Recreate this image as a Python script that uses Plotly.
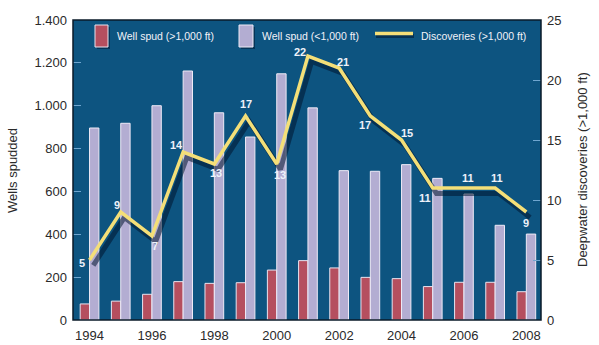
import plotly.graph_objects as go

years = list(range(1994, 2009))
spud_deep = [75, 88, 120, 179, 171, 174, 233, 277, 243, 199, 193, 156, 176, 176, 132]
spud_shallow = [896, 918, 1000, 1162, 967, 854, 1149, 990, 697, 694, 725, 661, 588, 442, 401]
discoveries = [5, 9, 7, 14, 13, 17, 13, 22, 21, 17, 15, 11, 11, 11, 9]
left_ticks = [0, 200, 400, 600, 800, 1000, 1200, 1400]
right_ticks = [0, 5, 10, 15, 20, 25]
x_ticks = [1994, 1996, 1998, 2000, 2002, 2004, 2006, 2008]

# label offsets (pixels) for the discovery value labels
lab_dx = [-8, -4, 3, -7, 2, 0, 3, -8, 4, -5, 5, -8, 4, 2, 0]
lab_dy = [-3, 7, -10, 7, -9, 12, -11, 4, 6, -9, 7, -10, 10, 10, -11]

BG = "#0d5480"
RED = "#b54f5f"
LAV = "#b3add2"
YEL = "#f4df78"
TXT = "#2a2a2a"
FONT = "Liberation Sans, Arial, sans-serif"

fig = go.Figure()
fig.add_trace(go.Bar(x=years, y=spud_deep, name="Well spud (>1,000 ft)",
                     marker=dict(color=RED, line=dict(color="#e8e4f0", width=1)),
                     showlegend=False))
fig.add_trace(go.Bar(x=years, y=spud_shallow, name="Well spud (<1,000 ft)",
                     marker=dict(color=LAV, line=dict(color="#eeeaf6", width=1)),
                     showlegend=False))
# soft shadow under the discoveries line
fig.add_trace(go.Scatter(x=[v + 0.12 for v in years], y=[d - 0.45 for d in discoveries],
                         mode="lines", line=dict(color="rgba(0,20,45,0.55)", width=5),
                         yaxis="y2", showlegend=False, hoverinfo="skip"))
fig.add_trace(go.Scatter(x=years, y=discoveries, name="Discoveries (>1,000 ft)",
                         mode="lines", line=dict(color=YEL, width=3.5),
                         yaxis="y2", showlegend=False))

for yr, d, dx, dy in zip(years, discoveries, lab_dx, lab_dy):
    fig.add_annotation(x=yr, y=d, yref="y2", text="<b>%d</b>" % d, showarrow=False,
                       xshift=dx, yshift=dy,
                       font=dict(family=FONT, size=11, color="#eef2fa"))

# custom legend
def rect(x0, y0, x1, y1, color, line=None, lw=0):
    fig.add_shape(type="rect", xref="paper", yref="paper", x0=x0, y0=y0, x1=x1, y1=y1,
                  fillcolor=color, line=dict(color=line or color, width=lw), layer="above")

W, H = 468.0, 300.0
def px(x):
    return (x - 73) / W
def py(y):
    return (320 - y) / H

rect(px(97), py(49), px(110), py(27), "rgba(0,20,45,0.5)")
rect(px(95), py(47), px(108), py(25), RED, "#e8e4f0", 1)
rect(px(241), py(49), px(255), py(27), "rgba(0,20,45,0.5)")
rect(px(239), py(47), px(253), py(25), LAV, "#eeeaf6", 1)
fig.add_shape(type="line", xref="paper", yref="paper", x0=px(376), x1=px(414), y0=py(36), y1=py(36),
              line=dict(color="rgba(0,20,45,0.55)", width=4), layer="above")
fig.add_shape(type="line", xref="paper", yref="paper", x0=px(375), x1=px(413), y0=py(33.5), y1=py(33.5),
              line=dict(color=YEL, width=3.5), layer="above")
for x, t in [(115, "Well spud (>1,000 ft)"), (260, "Well spud (<1,000 ft)"), (419, "Discoveries (>1,000 ft)")]:
    fig.add_annotation(xref="paper", yref="paper", x=px(x), y=py(36), text=t, showarrow=False,
                       xanchor="left", yanchor="middle",
                       font=dict(family=FONT, size=10.5, color="#f2f2f8"))

# axis titles
fig.add_annotation(xref="paper", yref="paper", x=px(12), y=0.5, text="Wells spudded",
                   textangle=-90, showarrow=False, xanchor="center", yanchor="middle",
                   font=dict(family=FONT, size=13, color=TXT))
fig.add_annotation(xref="paper", yref="paper", x=px(582), y=0.5,
                   text="Deepwater discoveries (>1,000 ft)", xanchor="center", yanchor="middle",
                   textangle=-90, showarrow=False, font=dict(family=FONT, size=13, color=TXT))

# frame
fig.add_shape(type="rect", xref="paper", yref="paper", x0=0, y0=0, x1=1, y1=1,
              line=dict(color="#0a1a28", width=1.5), layer="above")

fig.update_layout(
    width=599, height=345,
    margin=dict(l=73, r=58, t=20, b=25),
    paper_bgcolor="white", plot_bgcolor=BG,
    separators=",.",
    barmode="group", bargap=0.4, bargroupgap=0,
    font=dict(family=FONT, size=13, color=TXT),
    xaxis=dict(range=[1993.47, 2008.47], tickvals=x_ticks, showgrid=False, zeroline=False,
               ticks="", ticklabelstandoff=6, automargin=False,
               tickfont=dict(size=13, color=TXT)),
    yaxis=dict(range=[0, 1400], tickvals=left_ticks, tickformat=",d", showgrid=False,
               zeroline=False, ticks="inside", ticklen=8, tickcolor="#6fa6d0", tickwidth=1,
               ticklabelstandoff=5, automargin=False, tickfont=dict(size=13, color=TXT)),
    yaxis2=dict(range=[0, 25], tickvals=right_ticks, overlaying="y", side="right",
                showgrid=False, zeroline=False, ticks="inside", ticklen=8,
                tickcolor="#6fa6d0", tickwidth=1, ticklabelstandoff=5, automargin=False,
                tickfont=dict(size=13, color=TXT)),
)

fig.write_html("out.html")
